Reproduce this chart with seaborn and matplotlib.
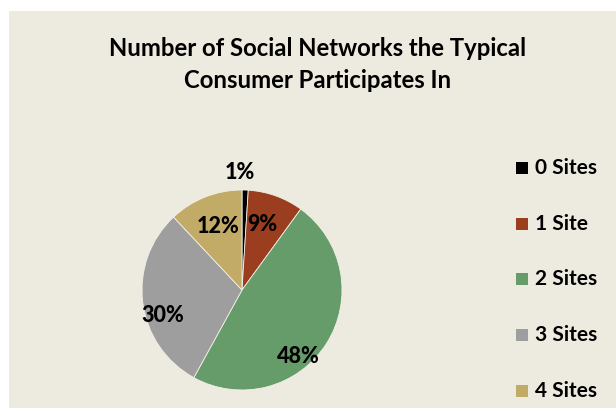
import numpy as np
import matplotlib
matplotlib.use("Agg")
import matplotlib.pyplot as plt
from matplotlib.patches import Rectangle
import seaborn as sns

categories = ["0 Sites", "1 Site", "2 Sites", "3 Sites", "4 Sites"]
values = [1, 9, 48, 30, 12]
pct_labels = ["1%", "9%", "48%", "30%", "12%"]
colors = ["#000000", "#9A3E1F", "#669C69", "#9E9E9E", "#C2AB66"]
title = "Number of Social Networks the Typical\nConsumer Participates In"

sns.set_theme(style="white")
plt.rcParams["font.family"] = ["Lato", "DejaVu Sans"]

W, H = 616, 409
fig = plt.figure(figsize=(W / 100, H / 100), dpi=100, facecolor="white")
bg = "#EDEAE0"
fig.patches.append(Rectangle((9 / W, 1 - 408 / H), (W - 9) / W, (408 - 11) / H,
                             transform=fig.transFigure, facecolor=bg, edgecolor="none", zorder=-5))

fig.text(318 / W, 1 - 64.5 / H, title, ha="center", va="center", fontsize=17.2,
         fontweight="bold", linespacing=1.5, color="black")

# pie: center (242, 290), radius 100 px
r_px = 100
cx, cy = 242, 290
ax = fig.add_axes([(cx - r_px) / W, 1 - (cy + r_px) / H, 2 * r_px / W, 2 * r_px / H])
ax.set_facecolor("none")
wedges, _ = ax.pie(values, colors=colors, startangle=90, counterclock=False,
                   radius=1.0, wedgeprops=dict(linewidth=0.6, edgecolor="#F2F0E8"))
ax.set_xlim(-1, 1)
ax.set_ylim(-1, 1)
ax.set_aspect("equal")
ax.axis("off")

# label placements (angle in deg, radius fraction) - layout only
label_pos = [(91, 1.18), (73, 0.69), (-50, 0.87), (198, 0.83), (110.6, 0.68)]
for lab, (ang, rr) in zip(pct_labels, label_pos):
    a = np.deg2rad(ang)
    ax.text(rr * np.cos(a), rr * np.sin(a), lab, ha="center", va="center",
            fontsize=15.5, fontweight="black", color="black", clip_on=False)

# legend
leg_y = [168, 224, 279, 335, 391]
for cat, col, y in zip(categories, colors, leg_y):
    fig.patches.append(Rectangle((516 / W, 1 - (y + 6) / H), 12 / W, 12 / H,
                                 transform=fig.transFigure, facecolor=col, edgecolor="none"))
    fig.text(535 / W, 1 - y / H, cat, ha="left", va="center", fontsize=15,
             fontweight="bold", color="black")

fig.savefig("out.png", dpi=100, facecolor="white")
